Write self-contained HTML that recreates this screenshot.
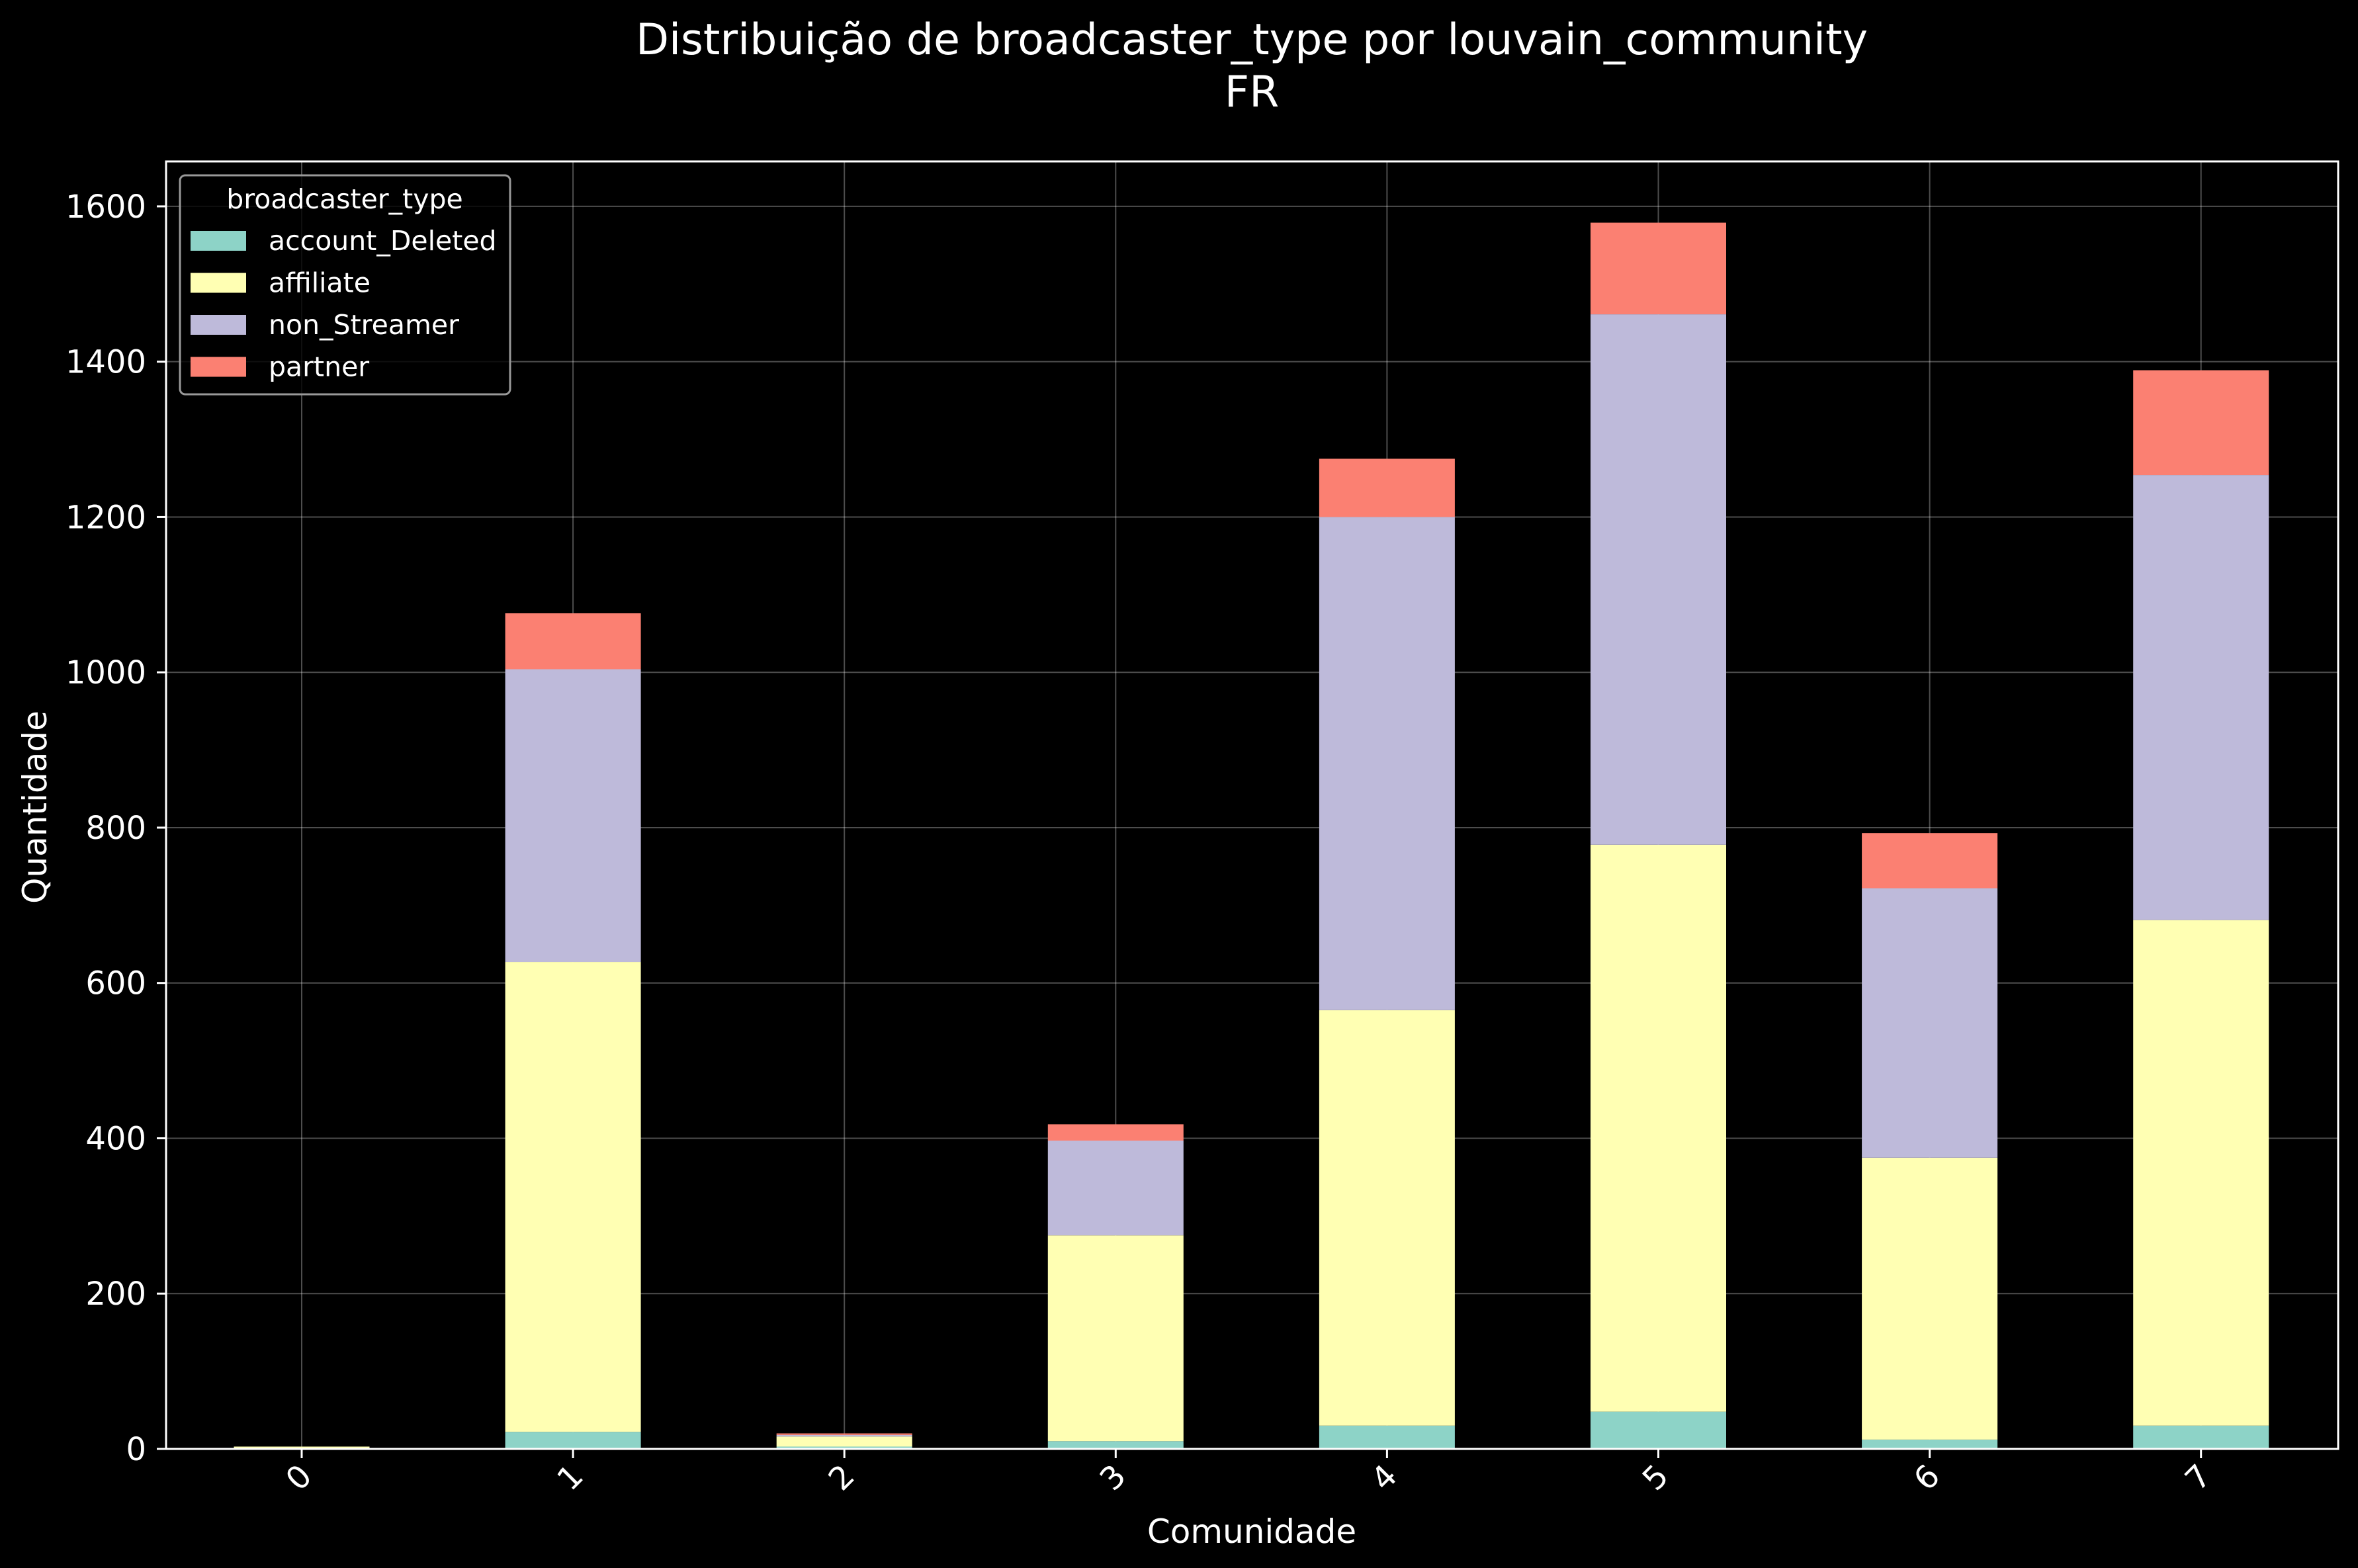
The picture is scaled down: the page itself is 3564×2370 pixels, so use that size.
<!DOCTYPE html>
<html><head><meta charset="utf-8"><style>
html,body{margin:0;padding:0;background:#000;}
svg{display:block;font-family:"DejaVu Sans","Liberation Sans",sans-serif;}
</style></head><body>
<svg id="chart" width="3564" height="2370" viewBox="0 0 3564 2370">
<rect width="3564" height="2370" fill="#000"/>
<g id="grid"></g>
<g id="bars"></g>
<g id="axes"></g>
<text x="1892" y="82" font-size="65" fill="#fff" text-anchor="middle">Distribuição de broadcaster_type por louvain_community</text>
<text x="1892" y="161" font-size="65" fill="#fff" text-anchor="middle">FR</text>
<text x="1892" y="2332" font-size="50" fill="#fff" text-anchor="middle">Comunidade</text>
<text transform="translate(70,1220) rotate(-90)" font-size="50" fill="#fff" text-anchor="middle">Quantidade</text>
<g id="legend"></g>
</svg>
<script>
const categories = ["0","1","2","3","4","5","6","7"];
const accountDeleted = [0,22,3,10,30,48,12,30];
const affiliate = [3,605,13,265,535,730,363,651];
const nonStreamer = [0,377,2,122,635,683,347,573];
const partner = [0,72,2,21,75,118,71,135];
const yTicks = [0,200,400,600,800,1000,1200,1400,1600];
const seriesNames = ["account_Deleted","affiliate","non_Streamer","partner"];
const seriesColors = ["#8dd3c7","#ffffb3","#bebada","#fb8072"];

const NS = "http://www.w3.org/2000/svg";
const L = 251, R = 3534, T = 244, B = 2190;
const yScale = v => B - v * 1.1738;
const step = 410.1, x0 = 456;
const xScale = i => x0 + i * step;
const bw = 205;
function mk(tag, attrs, parent) {
  const e = document.createElementNS(NS, tag);
  for (const k in attrs) e.setAttribute(k, attrs[k]);
  parent.appendChild(e);
  return e;
}
const grid = document.getElementById("grid");
const bars = document.getElementById("bars");
const axes = document.getElementById("axes");
const legend = document.getElementById("legend");

yTicks.forEach(t => {
  const y = yScale(t);
  const g = mk("line", {x1: L, x2: R, y1: y, y2: y, stroke: "#ffffff", "stroke-opacity": 0.3, "stroke-width": 2}, grid);
  
  
  const tk = mk("line", {x1: L - 14, x2: L, y1: y, y2: y, stroke: "#fff", "stroke-width": 3}, axes);
  
  
  const tx = mk("text", {x: L - 30, y: y + 17, "font-size": 48, fill: "#fff", "text-anchor": "end"}, axes);
  tx.textContent = t;
  
  
});
categories.forEach((c, i) => {
  const x = xScale(i);
  const g = mk("line", {x1: x, x2: x, y1: T, y2: B, stroke: "#ffffff", "stroke-opacity": 0.3, "stroke-width": 2}, grid);
  
  
  const tk = mk("line", {x1: x, x2: x, y1: B, y2: B + 14, stroke: "#fff", "stroke-width": 3}, axes);
  
  
  const tx = mk("text", {transform: `translate(${x + 18},${B + 44}) rotate(-45)`, "font-size": 48, fill: "#fff", "text-anchor": "end"}, axes);
  tx.textContent = c;
  
  
  const series = [accountDeleted, affiliate, nonStreamer, partner];
  let base = 0;
  series.forEach((s, k) => {
    const v = s[i];
    const r = mk("rect", {x: x - bw / 2, y: yScale(base + v), width: bw, height: v * 1.1738, fill: seriesColors[k]}, bars);
    
    
    base += v;
  });
});
const frame = mk("rect", {x: L, y: T, width: R - L, height: B - T, fill: "none", stroke: "#fff", "stroke-width": 3}, axes);



const lb = mk("rect", {x: 272, y: 265, width: 499, height: 331, rx: 8, fill: "#000", "fill-opacity": 0.8, stroke: "#999", "stroke-width": 3}, legend);


const lt = mk("text", {x: 521, y: 315, "font-size": 41, fill: "#fff", "text-anchor": "middle"}, legend);
lt.textContent = "broadcaster_type";


seriesNames.forEach((n, k) => {
  const cy = 364 + k * 63.5;
  const p = mk("rect", {x: 288, y: cy - 15, width: 84, height: 30, fill: seriesColors[k]}, legend);
  
  
  const t = mk("text", {x: 406, y: cy + 14, "font-size": 41, fill: "#fff"}, legend);
  t.textContent = n;
  
  
});
</script>
</body></html>
